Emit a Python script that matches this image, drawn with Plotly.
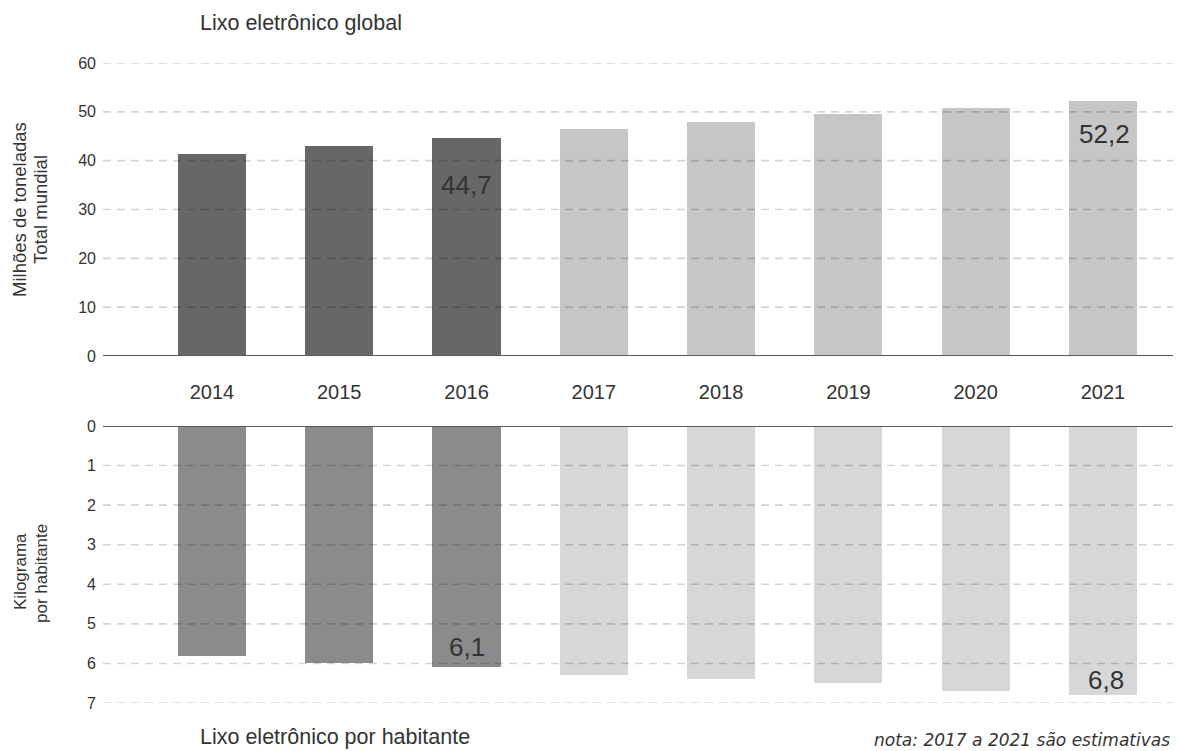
import plotly.graph_objects as go

# Data
years = [2014, 2015, 2016, 2017, 2018, 2019, 2020, 2021]
total_mt = [41.3, 43.0, 44.7, 46.4, 48.0, 49.5, 50.8, 52.2]      # milhões de toneladas
per_capita_kg = [5.8, 6.0, 6.1, 6.3, 6.4, 6.5, 6.7, 6.8]          # kg por habitante
first_estimate_year = 2017

top_ticks = [0, 10, 20, 30, 40, 50, 60]
bottom_ticks = [0, 1, 2, 3, 4, 5, 6, 7]

labelled_top = {2016: "44,7", 2021: "52,2"}
labelled_bottom = {2016: "6,1", 2021: "6,8"}

FONT = "Liberation Sans, Arial, sans-serif"
TXT = "#333333"

W, H = 1179, 751


def py(px):
    return 1 - px / H


top_colors = ["#c6c6c6" if y >= first_estimate_year else "#676767" for y in years]
bot_colors = ["#d7d7d9" if y >= first_estimate_year else "#8b8b8d" for y in years]

fig = go.Figure()
fig.add_trace(go.Bar(x=years, y=total_mt, width=0.535, marker=dict(color=top_colors, line=dict(width=0)),
                     xaxis="x", yaxis="y", hoverinfo="x+y", showlegend=False))
fig.add_trace(go.Bar(x=years, y=per_capita_kg, width=0.535, marker=dict(color=bot_colors, line=dict(width=0)),
                     xaxis="x2", yaxis="y2", hoverinfo="x+y", showlegend=False))

xdom = [103 / W, 1173 / W]
xrange_ = [2014 - 0.856, 2021 + 0.55]

fig.update_layout(
    width=W, height=H,
    margin=dict(l=0, r=0, t=0, b=0, pad=0, autoexpand=False),
    paper_bgcolor="white", plot_bgcolor="white",
    showlegend=False,
    font=dict(family=FONT, color=TXT, size=16),
    bargap=0,
    xaxis=dict(domain=xdom, range=xrange_, tickvals=years, ticktext=[str(y) for y in years],
               showgrid=False, zeroline=False, showline=False, ticks="", automargin=False,
               tickfont=dict(size=20, color=TXT), ticklabelstandoff=22, anchor="y"),
    yaxis=dict(domain=[py(356), py(63)], range=[0, 60], tickvals=top_ticks,
               showgrid=False, zeroline=False, showline=False, ticks="", automargin=False,
               tickfont=dict(size=16, color=TXT), ticklabelstandoff=6, anchor="x"),
    xaxis2=dict(domain=xdom, range=xrange_, showticklabels=False, showgrid=False, automargin=False,
                zeroline=False, showline=False, ticks="", anchor="y2"),
    yaxis2=dict(domain=[py(703), py(426)], range=[7.0, 0], tickvals=bottom_ticks,
                showgrid=False, zeroline=False, showline=False, ticks="", automargin=False,
                tickfont=dict(size=16, color=TXT), ticklabelstandoff=6, anchor="x2"),
)

shapes = []
# dashed gridlines drawn over the bars
for t in top_ticks[1:]:
    shapes.append(dict(type="line", xref="x domain", yref="y", x0=0, x1=1, y0=t, y1=t, layer="above",
                       line=dict(color="rgba(0,0,0,0.17)", width=1.6, dash="8px,6px")))
for t in bottom_ticks[1:]:
    shapes.append(dict(type="line", xref="x2 domain", yref="y2", x0=0, x1=1, y0=t, y1=t, layer="above",
                       line=dict(color="rgba(0,0,0,0.17)", width=1.6, dash="8px,6px")))
# baselines
shapes.append(dict(type="line", xref="x domain", yref="y", x0=0, x1=1, y0=0, y1=0, layer="above",
                   line=dict(color="#5a5a5a", width=2)))
shapes.append(dict(type="line", xref="x2 domain", yref="y2", x0=0, x1=1, y0=0, y1=0, layer="above",
                   line=dict(color="#5a5a5a", width=2)))
fig.update_layout(shapes=shapes)

annotations = []
for yr, txt in labelled_top.items():
    v = total_mt[years.index(yr)]
    shift = -30 if yr == 2016 else -16
    annotations.append(dict(x=yr, y=v, xref="x", yref="y", text=txt, showarrow=False,
                            yanchor="top", yshift=shift, xshift=2 if yr == 2021 else 0,
                            font=dict(size=26, color=TXT, family=FONT)))
for yr, txt in labelled_bottom.items():
    v = per_capita_kg[years.index(yr)]
    shift = 3 if yr == 2016 else -2
    annotations.append(dict(x=yr, y=v, xref="x2", yref="y2", text=txt, showarrow=False,
                            yanchor="bottom", yshift=shift, xshift=3 if yr == 2021 else 0,
                            font=dict(size=26, color=TXT, family=FONT)))

# Panel titles and note
annotations += [
    dict(x=198 / W, y=py(23), xref="paper", yref="paper", xanchor="left", yanchor="middle",
         text="Lixo eletrônico global", showarrow=False, font=dict(size=21.5, color=TXT)),
    dict(x=198 / W, y=py(737), xref="paper", yref="paper", xanchor="left", yanchor="middle",
         text="Lixo eletrônico por habitante", showarrow=False, font=dict(size=21.5, color=TXT)),
    dict(x=1172 / W, y=py(740), xref="paper", yref="paper", xanchor="right", yanchor="middle",
         text="<i>nota: 2017 a 2021 são estimativas</i>", showarrow=False,
         font=dict(size=17, color=TXT, family="DejaVu Sans, sans-serif")),
]

# Axis titles, one annotation per line for tight line spacing
axis_title_lines = [
    ("Milhões de toneladas", 19, 210, 18.5),
    ("Total mundial", 40, 210, 18.5),
    ("Kilograma", 20, 572, 17),
    ("por habitante", 41, 574, 17),
]
for text, xpx, ypx, size in axis_title_lines:
    annotations.append(dict(x=xpx / W, y=py(ypx), xref="paper", yref="paper", xanchor="center",
                            yanchor="middle", text=text, textangle=-90, showarrow=False,
                            font=dict(size=size, color=TXT)))
fig.update_layout(annotations=annotations)

fig.write_html("out.html")
